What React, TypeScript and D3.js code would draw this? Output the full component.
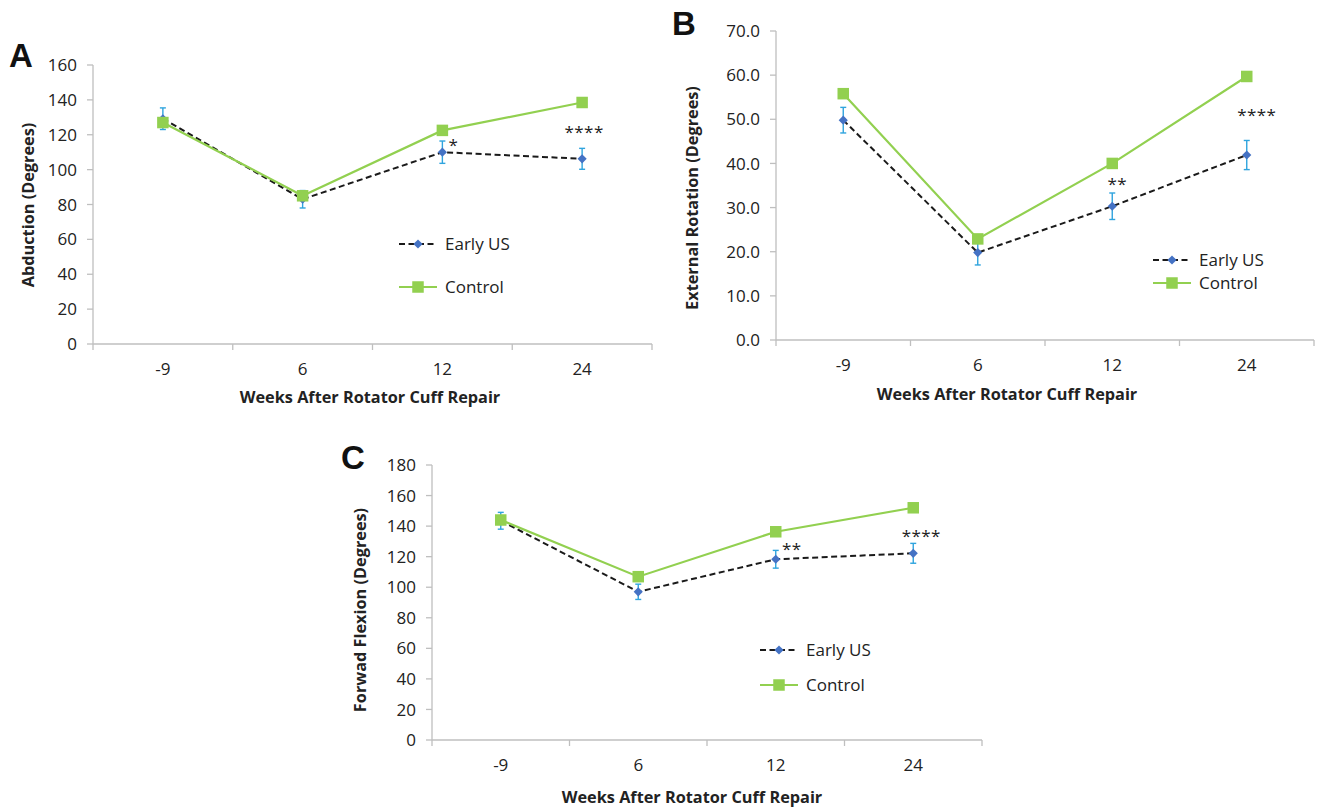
import React from "react";
import * as d3 from "d3";

// ---------- DATA ----------
const categories = ["-9", "6", "12", "24"];

const abductionEarly = [129.2, 83, 110, 106.2];
const abductionEarlyErr = [6.2, 5, 6.4, 6];
const abductionControl = [127, 85, 122.5, 138.5];
const abductionStars = ["", "", "*", "****"];
const abductionStarY = [0, 0, 116, 123.5];
const abductionTicks = [0, 20, 40, 60, 80, 100, 120, 140, 160];

const rotationEarly = [49.8, 19.8, 30.3, 41.9];
const rotationEarlyErr = [2.9, 2.8, 3.0, 3.3];
const rotationControl = [55.8, 22.9, 40.0, 59.7];
const rotationStars = ["", "", "**", "****"];
const rotationStarY = [0, 0, 36.2, 51.7];
const rotationTicks = [0, 10, 20, 30, 40, 50, 60, 70];

const flexionEarly = [143.5, 97, 118.3, 122.2];
const flexionEarlyErr = [5.5, 5, 5.8, 6.5];
const flexionControl = [144, 106.9, 136.3, 152];
const flexionStars = ["", "", "**", "****"];
const flexionStarY = [0, 0, 127.6, 136.1];
const flexionTicks = [0, 20, 40, 60, 80, 100, 120, 140, 160, 180];

const seriesNames = ["Early US", "Control"];
const xTitle = "Weeks After Rotator Cuff Repair";

// ---------- STYLE ----------
const FONT = "'Open Sans', 'Noto Sans', sans-serif";
const TEXT = "#222";
const AXIS = "#BFBFBF";
const GREEN = "#92D050";
const BLUE = "#4472C4";
const ERR = "#2FA4DE";
const DASH = "#1a1a1a";
const TICK_FS = 17;
const TITLE_FS = 16.3;

type PanelProps = {
  letter: string;
  letterPos: [number, number];
  x0: number;
  x1: number;
  yTop: number;
  yBot: number;
  max: number;
  ticks: number[];
  fmt: (v: number) => string;
  early: number[];
  earlyErr: number[];
  control: number[];
  stars: string[];
  starY: number[];
  starDx: number[];
  yTitle: string;
  yTitlePos: [number, number];
  xTitlePos: [number, number];
  legendX: number;
  legendY: [number, number];
};

function Panel(p: PanelProps) {
  const x = d3.scaleBand<string>().domain(categories).range([p.x0, p.x1]).padding(0);
  const y = d3.scaleLinear().domain([0, p.max]).range([p.yBot, p.yTop]);
  const cx = (c: string) => (x(c) as number) + x.bandwidth() / 2;
  const line = d3
    .line<number>()
    .x((_, i) => cx(categories[i]))
    .y((v) => y(v));
  const boundaries = categories.map((c) => x(c) as number).concat([p.x1]);
  const diamond = d3.symbol(d3.symbolSquare, 42)() as string;
  const legLen = 38;

  return (
    <g>
      <text
        x={p.letterPos[0]}
        y={p.letterPos[1]}
        fontFamily="'Liberation Sans', Arial, sans-serif"
        fontWeight="bold"
        fontSize={33}
        fill="#111"
      >
        {p.letter}
      </text>
      {/* y axis */}
      <line x1={p.x0} x2={p.x0} y1={p.yTop} y2={p.yBot} stroke={AXIS} strokeWidth={1.3} />
      {p.ticks.map((t) => (
        <g key={"yt" + t}>
          <line x1={p.x0 - 6} x2={p.x0} y1={y(t)} y2={y(t)} stroke={AXIS} strokeWidth={1.3} />
          <text
            x={p.x0 - 16}
            y={y(t)}
            dy="0.36em"
            textAnchor="end"
            fontFamily={FONT}
            fontSize={TICK_FS}
            fill={TEXT}
          >
            {p.fmt(t)}
          </text>
        </g>
      ))}
      {/* x axis */}
      <line x1={p.x0} x2={p.x1} y1={p.yBot} y2={p.yBot} stroke={AXIS} strokeWidth={1.3} />
      {boundaries.map((b, i) => (
        <line key={"xb" + i} x1={b} x2={b} y1={p.yBot} y2={p.yBot + 6} stroke={AXIS} strokeWidth={1.3} />
      ))}
      {categories.map((c) => (
        <text
          key={"xl" + c}
          x={cx(c)}
          y={p.yBot + 25}
          dy="0.36em"
          textAnchor="middle"
          fontFamily={FONT}
          fontSize={TICK_FS}
          fill={TEXT}
        >
          {c}
        </text>
      ))}
      <text
        x={p.xTitlePos[0]}
        y={p.xTitlePos[1]}
        dy="0.36em"
        textAnchor="middle"
        fontFamily={FONT}
        fontWeight="bold"
        fontSize={TITLE_FS}
        fill={TEXT}
      >
        {xTitle}
      </text>
      <text
        transform={`translate(${p.yTitlePos[0]},${p.yTitlePos[1]}) rotate(-90)`}
        dy="0.36em"
        textAnchor="middle"
        fontFamily={FONT}
        fontWeight="bold"
        fontSize={TITLE_FS}
        fill={TEXT}
      >
        {p.yTitle}
      </text>

      {/* Early US series */}
      <path d={line(p.early) as string} fill="none" stroke={DASH} strokeWidth={2} strokeDasharray="6,3.5" />
      {p.early.map((v, i) => {
        const px = cx(categories[i]);
        const lo = y(v - p.earlyErr[i]);
        const hi = y(v + p.earlyErr[i]);
        return (
          <g key={"eb" + i} stroke={ERR} strokeWidth={1.4}>
            <line x1={px} x2={px} y1={lo} y2={hi} />
            <line x1={px - 3} x2={px + 3} y1={lo} y2={lo} />
            <line x1={px - 3} x2={px + 3} y1={hi} y2={hi} />
          </g>
        );
      })}
      {p.early.map((v, i) => (
        <path
          key={"em" + i}
          d={diamond}
          transform={`translate(${cx(categories[i])},${y(v)}) rotate(45)`}
          fill={BLUE}
        />
      ))}

      {/* Control series */}
      <path d={line(p.control) as string} fill="none" stroke={GREEN} strokeWidth={2.2} />
      {p.control.map((v, i) => (
        <rect
          key={"cm" + i}
          x={cx(categories[i]) - 5.75}
          y={y(v) - 5.75}
          width={11.5}
          height={11.5}
          fill={GREEN}
        />
      ))}

      {/* significance stars */}
      {p.stars.map((s, i) =>
        s ? (
          <text
            key={"st" + i}
            x={cx(categories[i]) + p.starDx[i]}
            y={y(p.starY[i]) + 9.5}
            textAnchor="middle"
            fontFamily={FONT}
            fontSize={17}
            letterSpacing={0.4}
            fill={TEXT}
          >
            {s}
          </text>
        ) : null
      )}

      {/* legend */}
      <g>
        <line
          x1={p.legendX}
          x2={p.legendX + legLen}
          y1={p.legendY[0]}
          y2={p.legendY[0]}
          stroke={DASH}
          strokeWidth={2}
          strokeDasharray="6,3.5"
        />
        <path
          d={diamond}
          transform={`translate(${p.legendX + legLen / 2},${p.legendY[0]}) rotate(45)`}
          fill={BLUE}
        />
        <text
          x={p.legendX + legLen + 8}
          y={p.legendY[0]}
          dy="0.36em"
          fontFamily={FONT}
          fontSize={17}
          fill={TEXT}
        >
          {seriesNames[0]}
        </text>
        <line
          x1={p.legendX}
          x2={p.legendX + legLen}
          y1={p.legendY[1]}
          y2={p.legendY[1]}
          stroke={GREEN}
          strokeWidth={2.2}
        />
        <rect
          x={p.legendX + legLen / 2 - 5.75}
          y={p.legendY[1] - 5.75}
          width={11.5}
          height={11.5}
          fill={GREEN}
        />
        <text
          x={p.legendX + legLen + 8}
          y={p.legendY[1]}
          dy="0.36em"
          fontFamily={FONT}
          fontSize={17}
          fill={TEXT}
        >
          {seriesNames[1]}
        </text>
      </g>
    </g>
  );
}

export default function App() {
  const intFmt = d3.format("d");
  const decFmt = d3.format(".1f");
  return (
    <svg
      width={1322}
      height={807}
      style={{ position: "absolute", left: 0, top: 0, background: "#fff" }}
    >
      <rect width={1322} height={807} fill="#fff" />
      <Panel
        letter="A"
        letterPos={[9, 67]}
        x0={93}
        x1={652}
        yTop={65}
        yBot={344}
        max={160}
        ticks={abductionTicks}
        fmt={intFmt}
        early={abductionEarly}
        earlyErr={abductionEarlyErr}
        control={abductionControl}
        stars={abductionStars}
        starY={abductionStarY}
        starDx={[0, 0, 11, 2]}
        yTitle="Abduction (Degrees)"
        yTitlePos={[28, 205]}
        xTitlePos={[370, 397]}
        legendX={399}
        legendY={[244, 287]}
      />
      <Panel
        letter="B"
        letterPos={[672, 35]}
        x0={776}
        x1={1314}
        yTop={31}
        yBot={340}
        max={70}
        ticks={rotationTicks}
        fmt={decFmt}
        early={rotationEarly}
        earlyErr={rotationEarlyErr}
        control={rotationControl}
        stars={rotationStars}
        starY={rotationStarY}
        starDx={[0, 0, 5, 10]}
        yTitle="External Rotation (Degrees)"
        yTitlePos={[692, 198]}
        xTitlePos={[1007, 394]}
        legendX={1153}
        legendY={[260, 283]}
      />
      <Panel
        letter="C"
        letterPos={[341, 469]}
        x0={432}
        x1={982}
        yTop={465}
        yBot={740}
        max={180}
        ticks={flexionTicks}
        fmt={intFmt}
        early={flexionEarly}
        earlyErr={flexionEarlyErr}
        control={flexionControl}
        stars={flexionStars}
        starY={flexionStarY}
        starDx={[0, 0, 16, 8]}
        yTitle="Forwad Flexion (Degrees)"
        yTitlePos={[360, 610]}
        xTitlePos={[692, 797]}
        legendX={760}
        legendY={[650, 685]}
      />
    </svg>
  );
}
